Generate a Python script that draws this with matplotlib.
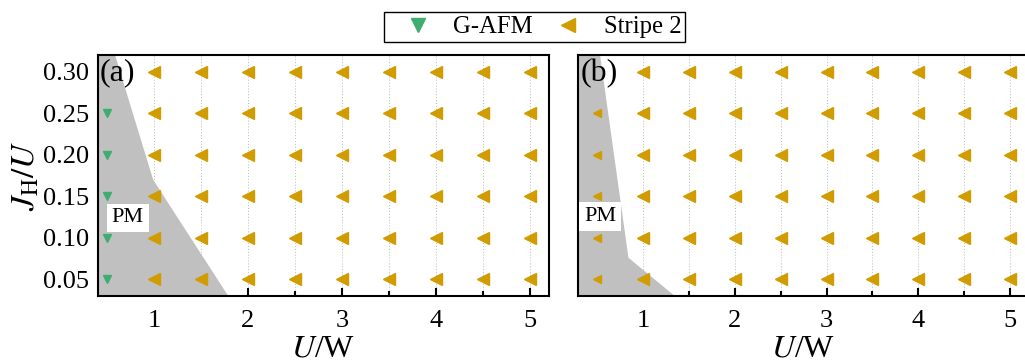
import numpy as np
import matplotlib
matplotlib.use("Agg")
import matplotlib.pyplot as plt
from matplotlib.ticker import MultipleLocator
from matplotlib.lines import Line2D

plt.rcParams['font.family'] = ['Liberation Serif', 'DejaVu Serif']
plt.rcParams['mathtext.fontset'] = 'stix'

# grid of calculated points
U_vals = [0.5, 1.0, 1.5, 2.0, 2.5, 3.0, 3.5, 4.0, 4.5, 5.0]
JH_vals = [0.05, 0.10, 0.15, 0.20, 0.25, 0.30]

# phase at each point: 'G' = G-AFM, 'S' = Stripe 2, '' = hidden under the panel label
# rows follow JH_vals, columns follow U_vals
phase_a = [
    ['G', 'S', 'S', 'S', 'S', 'S', 'S', 'S', 'S', 'S'],
    ['G', 'S', 'S', 'S', 'S', 'S', 'S', 'S', 'S', 'S'],
    ['G', 'S', 'S', 'S', 'S', 'S', 'S', 'S', 'S', 'S'],
    ['G', 'S', 'S', 'S', 'S', 'S', 'S', 'S', 'S', 'S'],
    ['G', 'S', 'S', 'S', 'S', 'S', 'S', 'S', 'S', 'S'],
    ['',  'S', 'S', 'S', 'S', 'S', 'S', 'S', 'S', 'S'],
]
phase_b = [
    ['S', 'S', 'S', 'S', 'S', 'S', 'S', 'S', 'S', 'S'],
    ['S', 'S', 'S', 'S', 'S', 'S', 'S', 'S', 'S', 'S'],
    ['S', 'S', 'S', 'S', 'S', 'S', 'S', 'S', 'S', 'S'],
    ['S', 'S', 'S', 'S', 'S', 'S', 'S', 'S', 'S', 'S'],
    ['S', 'S', 'S', 'S', 'S', 'S', 'S', 'S', 'S', 'S'],
    ['',  'S', 'S', 'S', 'S', 'S', 'S', 'S', 'S', 'S'],
]

# PM region boundary (U/W, JH/U)
pm_a_U = [0.4, 0.585, 0.99, 1.79, 0.4]
pm_a_J = [0.32, 0.32, 0.17, 0.03, 0.03]
pm_b_U = [0.3, 0.53, 0.84, 1.345, 0.3]
pm_b_J = [0.32, 0.32, 0.076, 0.03, 0.03]

green = '#3DAE6E'
gold = '#D19C00'
pm_gray = '#C0C0C0'

fig = plt.figure(figsize=(10.25, 3.62), dpi=100)
ax_a = fig.add_axes([0.0953, 0.1823, 0.4403, 0.6657])
ax_b = fig.add_axes([0.5642, 0.1823, 0.439, 0.6657])


def draw_panel(ax, phase, pm_U, pm_J, xlim, label, pm_pos):
    ax.fill(pm_U, pm_J, color=pm_gray, lw=0, zorder=1)
    for i, jh in enumerate(JH_vals):
        for j, u in enumerate(U_vals):
            p = phase[i][j]
            if p == '':
                continue
            ms = 9
            if u == 0.5:
                ms = 6
            elif jh == 0.05:
                ms = 8
            if p == 'G':
                ax.plot(u, jh, marker='v', ms=ms, color=green, ls='none', zorder=3)
            else:
                ax.plot(u, jh, marker='<', ms=ms, color=gold, ls='none', zorder=3)

    ax.set_xlim(*xlim)
    ax.set_ylim(0.03, 0.32)
    ax.xaxis.set_major_locator(MultipleLocator(1))
    ax.xaxis.set_minor_locator(MultipleLocator(0.5))
    ax.yaxis.set_major_locator(MultipleLocator(0.05))
    ax.yaxis.set_minor_locator(MultipleLocator(0.025))
    ax.tick_params(which='both', direction='in', width=1.5, labelsize=19)
    ax.tick_params(which='major', length=6, pad=6)
    ax.tick_params(axis='x', which='major', pad=10)
    ax.tick_params(which='minor', length=3.5)
    for s in ax.spines.values():
        s.set_linewidth(1.5)
    ax.grid(True, axis='x', which='both', color='#BBBBBB', ls=(0, (1, 2)), lw=0.7, zorder=0)
    ax.set_axisbelow(True)
    ax.set_xlabel('$U$/W', fontsize=23, labelpad=2)
    ax.text(0.005, 0.985, label, transform=ax.transAxes, fontsize=23,
            ha='left', va='top', zorder=5)
    ax.text(pm_pos[0], pm_pos[1], 'PM', fontsize=16, ha='center', va='center',
            zorder=5, bbox=dict(facecolor='white', edgecolor='none', pad=3.5))


draw_panel(ax_a, phase_a, pm_a_U, pm_a_J, (0.4, 5.205), '(a)', (0.72, 0.124))
draw_panel(ax_b, phase_b, pm_b_U, pm_b_J, (0.293, 5.2), '(b)', (0.53, 0.126))

ax_a.yaxis.set_major_formatter(matplotlib.ticker.FormatStrFormatter('%.2f'))
ax_a.set_ylabel('$J_\\mathrm{H}/U$', fontsize=24, labelpad=1)
ax_b.tick_params(labelleft=False)

handles = [
    Line2D([], [], marker='v', ms=10, color=green, ls='none'),
    Line2D([], [], marker='<', ms=10, color=gold, ls='none'),
]
fig.legend(handles, ['G-AFM', 'Stripe 2'], loc='center', bbox_to_anchor=(0.5215, 0.925),
           ncol=2, fontsize=17.8, frameon=True, fancybox=False, edgecolor='black',
           framealpha=1, handletextpad=0.2, columnspacing=0.2, borderpad=0.15,
           handlelength=2.45, borderaxespad=0)

fig.savefig('out.png', dpi=100)
